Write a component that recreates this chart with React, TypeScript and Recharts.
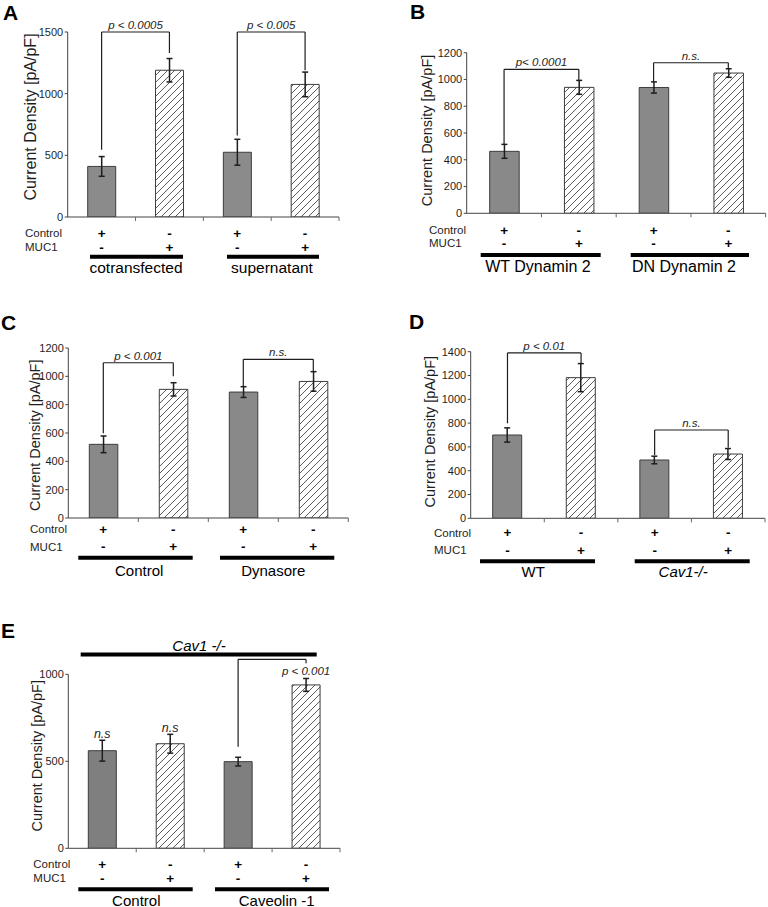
import { Bar, BarChart, Cell, ErrorBar, ReferenceDot, ReferenceLine, XAxis, YAxis } from "recharts";

const CATS = ["ctrl-1", "muc-1", "ctrl-2", "muc-2"];
const CONTROL_SIGNS = ["+", "-", "+", "-"];
const MUC1_SIGNS = ["-", "+", "-", "+"];
const ROW_LABELS = ["Control", "MUC1"];
const Y_LABEL = "Current Density [pA/pF]";

// A
const A_MEANS = [410, 1190, 525, 1075];
const A_ERRS = [80, 95, 105, 100];
const A_TICKS = [0, 500, 1000, 1500];
const A_GROUPS = ["cotransfected", "supernatant"];
const A_BRACKETS = [
  { from: 0, to: 1, top: 1500, left: 545, right: 1330, text: "p < 0.0005" },
  { from: 2, to: 3, top: 1500, left: 660, right: 1190, text: "p < 0.005" },
];

// B
const B_MEANS = [463, 941, 940, 1048];
const B_ERRS = [52, 52, 42, 32];
const B_TICKS = [0, 200, 400, 600, 800, 1000, 1200];
const B_GROUPS = ["WT Dynamin 2", "DN Dynamin 2"];
const B_BRACKETS = [
  { from: 0, to: 1, top: 1076, left: 515, right: 993, text: "p< 0.0001" },
  { from: 2, to: 3, top: 1125, left: 983, right: 1080, text: "n.s." },
];

// C
const C_MEANS = [520, 908, 889, 964];
const C_ERRS = [59, 47, 38, 69];
const C_TICKS = [0, 200, 400, 600, 800, 1000, 1200];
const C_GROUPS = ["Control", "Dynasore"];
const C_BRACKETS = [
  { from: 0, to: 1, top: 1096, left: 598, right: 1000, text: "p < 0.001" },
  { from: 2, to: 3, top: 1120, left: 927, right: 1033, text: "n.s." },
];

// D
const D_MEANS = [700, 1182, 490, 540];
const D_ERRS = [60, 118, 32, 46];
const D_TICKS = [0, 200, 400, 600, 800, 1000, 1200, 1400];
const D_GROUPS = ["WT", "Cav1-/-"];
const D_BRACKETS = [
  { from: 0, to: 1, top: 1390, left: 798, right: 1300, text: "p < 0.01" },
  { from: 2, to: 3, top: 742, left: 532, right: 593, text: "n.s." },
];

// E
const E_MEANS = [561, 601, 498, 939];
const E_ERRS = [60, 54, 25, 37];
const E_TICKS = [0, 500, 1000];
const E_GROUPS = ["Control", "Caveolin -1"];
const E_NOTES = ["n.s", "n.s", "", ""];
const E_BRACKETS = [
  { from: 2, to: 3, top: 1086, left: 584, right: 1063, text: "p < 0.001", below: true },
];
const E_HEADER = "Cav1 -/-";

const FONT = "'Liberation Sans', Arial, sans-serif";
const INK = "#1e1e1e";

const PANELS = [
  {
    id: "a", letter: "A", means: A_MEANS, errs: A_ERRS, ticks: A_TICKS, groups: A_GROUPS, brackets: A_BRACKETS,
    box: { left: 0, top: 0, w: 384, h: 290 }, plot: { left: 67.7, right: 339, top: 32, bottom: 217 },
    barSize: 28, solid: "#8b8b8b", letterPos: [3, 20], yLab: [30, 117, 16], rows: [233.3, 247.3], rowX: 25,
    lineY: 256.7, lines: [[90, 183, 136], [227, 319, 272]], groupY: 273, groupSize: 15.5,
  },
  {
    id: "b", letter: "B", means: B_MEANS, errs: B_ERRS, ticks: B_TICKS, groups: B_GROUPS, brackets: B_BRACKETS,
    box: { left: 384, top: 0, w: 384, h: 290 }, plot: { left: 466.7, right: 765.7, top: 52.7, bottom: 213.3 },
    barSize: 29.5, solid: "#898989", letterPos: [410, 18.5], yLab: [427.3, 130.5, 14.5], rows: [230, 243.3], rowX: 429,
    lineY: 255, lines: [[480.7, 600.7, 538], [630.7, 749, 684]], groupY: 271.7, groupSize: 16,
  },
  {
    id: "c", letter: "C", means: C_MEANS, errs: C_ERRS, ticks: C_TICKS, groups: C_GROUPS, brackets: C_BRACKETS,
    box: { left: 0, top: 290, w: 384, h: 290 }, plot: { left: 68.3, right: 348.3, top: 348, bottom: 518 },
    barSize: 28.5, solid: "#898989", letterPos: [1, 330], yLab: [35, 435.3, 14.5], rows: [529.3, 546.7], rowX: 30,
    lineY: 557.8, lines: [[78.3, 192.7, 139.2], [220, 334.3, 273.3]], groupY: 576, groupSize: 15,
  },
  {
    id: "d", letter: "D", means: D_MEANS, errs: D_ERRS, ticks: D_TICKS, groups: D_GROUPS, brackets: D_BRACKETS,
    box: { left: 384, top: 290, w: 384, h: 290 }, plot: { left: 470.7, right: 765, top: 351.7, bottom: 518.3 },
    barSize: 29, solid: "#888888", letterPos: [409, 328.5], yLab: [429.7, 431.7, 14.5], rows: [532.7, 550], rowX: 434,
    lineY: 561.3, lines: [[480, 595, 533.2], [634.7, 749.7, 683.2]], groupY: 577.3, groupSize: 15, italicSecond: true,
  },
  {
    id: "e", letter: "E", means: E_MEANS, errs: E_ERRS, ticks: E_TICKS, groups: E_GROUPS, brackets: E_BRACKETS,
    notes: E_NOTES, header: E_HEADER,
    box: { left: 0, top: 580, w: 384, h: 327 }, plot: { left: 68.3, right: 340, top: 674.3, bottom: 848.3 },
    barSize: 28, solid: "#7f7f7f", letterPos: [1, 638], yLab: [36.7, 755.8, 14.5], rows: [864, 878.3], rowX: 33.3,
    lineY: 889.3, lines: [[78.3, 192.7, 136.3], [215, 329, 276.7]], groupY: 905.5, groupSize: 15,
  },
];

function SignTick(props: any) {
  const { x, payload, p } = props;
  const i = CATS.indexOf(payload.value);
  const bw = (p.plot.right - p.plot.left) / 4;
  const ay = p.plot.bottom - p.box.top;
  return (
    <g>
      <line x1={x + bw / 2} x2={x + bw / 2} y1={ay} y2={ay + 4} stroke="#666" strokeWidth={1} />
      {[CONTROL_SIGNS[i], MUC1_SIGNS[i]].map((s, r) => (
        <text key={r} x={x} y={p.rows[r] - p.box.top} textAnchor="middle" dominantBaseline="central"
          fontSize={13.5} fontWeight="bold" fill="#000">{s}</text>
      ))}
    </g>
  );
}

function Panel({ p }: { p: any }) {
  const data = p.means.map((m: number, i: number) => ({ cat: CATS[i], mean: m, err: p.errs[i] }));
  const ox = p.box.left;
  const oy = p.box.top;
  const hatch = `hatch-${p.id}`;
  const yw = p.plot.left - ox;
  return (
    <div style={{ position: "absolute", left: ox, top: oy, width: p.box.w, height: p.box.h }}>
      <BarChart width={p.box.w} height={p.box.h} data={data} barSize={p.barSize}
        margin={{ top: p.plot.top - oy, right: ox + p.box.w - p.plot.right, bottom: 0, left: 0 }}>
        <defs>
          <pattern id={hatch} patternUnits="userSpaceOnUse" width="7" height="7">
            <rect width="7" height="7" fill="#fff" />
            <path d="M-1,1 L1,-1 M0,7 L7,0 M6,8 L8,6" stroke="#4a4a4a" strokeWidth="0.9" />
          </pattern>
        </defs>
        <XAxis dataKey="cat" height={oy + p.box.h - p.plot.bottom} interval={0} tickLine={false}
          axisLine={{ stroke: "#444" }} tick={(t: any) => <SignTick {...t} p={p} />} />
        <YAxis width={yw} domain={[0, p.ticks[p.ticks.length - 1]]} ticks={p.ticks} allowDataOverflow
          tickSize={3} tickMargin={1.5} axisLine={{ stroke: "#444" }} tickLine={{ stroke: "#444" }}
          tick={{ fontSize: 11, fill: INK }} />
        <Bar dataKey="mean" stroke="#3d3d3d" strokeWidth={1} isAnimationActive={false}>
          {data.map((_: any, i: number) => (
            <Cell key={i} fill={i % 2 === 0 ? p.solid : `url(#${hatch})`} />
          ))}
          <ErrorBar dataKey="err" width={3} stroke={INK} strokeWidth={1.5} isAnimationActive={false} />
        </Bar>
        {p.brackets.map((b: any, k: number) => [
          <ReferenceLine key={`h${k}`} ifOverflow="visible" stroke={INK} strokeWidth={1.2}
            segment={[{ x: CATS[b.from], y: b.top }, { x: CATS[b.to], y: b.top }]}
            label={b.below ? undefined : { value: b.text, position: "top", offset: 3, fontSize: 11.5, fontStyle: "italic", fill: INK }} />,
          <ReferenceLine key={`l${k}`} ifOverflow="visible" stroke={INK} strokeWidth={1.2}
            segment={[{ x: CATS[b.from], y: b.top }, { x: CATS[b.from], y: b.left }]} />,
          <ReferenceLine key={`r${k}`} ifOverflow="visible" stroke={INK} strokeWidth={1.2}
            segment={[{ x: CATS[b.to], y: b.top }, { x: CATS[b.to], y: b.right }]}
            label={b.below ? { value: b.text, position: "bottom", offset: 3.5, fontSize: 11.5, fontStyle: "italic", fill: INK } : undefined} />,
        ])}
        {p.notes && p.notes.map((n: string, i: number) => n ? (
          <ReferenceDot key={`n${i}`} x={CATS[i]} y={p.means[i] + p.errs[i]} r={0} ifOverflow="visible"
            fill="none" stroke="none"
            label={{ value: n, position: "top", offset: 2, fontSize: 12.5, fontStyle: "italic", fill: INK }} />
        ) : null)}
        <g>
          <text x={p.letterPos[0] - ox} y={p.letterPos[1] - oy} fontSize={21} fontWeight="bold" fill="#000">{p.letter}</text>
          <text transform={`rotate(-90, ${p.yLab[0] - ox}, ${p.yLab[1] - oy})`} x={p.yLab[0] - ox} y={p.yLab[1] - oy}
            textAnchor="middle" dominantBaseline="central" fontSize={p.yLab[2]} fill={INK}>{Y_LABEL}</text>
          {ROW_LABELS.map((r, k) => (
            <text key={r} x={p.rowX - ox} y={p.rows[k] - oy} dominantBaseline="central" fontSize={11.5} fill={INK}>{r}</text>
          ))}
          {p.lines.map((l: number[], k: number) => (
            <g key={k}>
              <line x1={l[0] - ox} x2={l[1] - ox} y1={p.lineY - oy} y2={p.lineY - oy} stroke="#000" strokeWidth={4} />
              <text x={l[2] - ox} y={p.groupY - oy} textAnchor="middle" fontSize={p.groupSize} fill="#000"
                fontStyle={p.italicSecond && k === 1 ? "italic" : "normal"}>{p.groups[k]}</text>
            </g>
          ))}
          {p.header && (
            <g>
              <line x1={80.7 - ox} x2={316.7 - ox} y1={654.5 - oy} y2={654.5 - oy} stroke="#000" strokeWidth={4} />
              <text x={199 - ox} y={650.5 - oy} textAnchor="middle" fontSize={15} fontStyle="italic" fill="#000">{p.header}</text>
            </g>
          )}
        </g>
      </BarChart>
    </div>
  );
}

export default function App() {
  return (
    <div style={{ position: "absolute", left: 0, top: 0, width: 768, height: 907, background: "#fff", fontFamily: FONT }}>
      {PANELS.map((p) => (
        <Panel key={p.id} p={p} />
      ))}
    </div>
  );
}
